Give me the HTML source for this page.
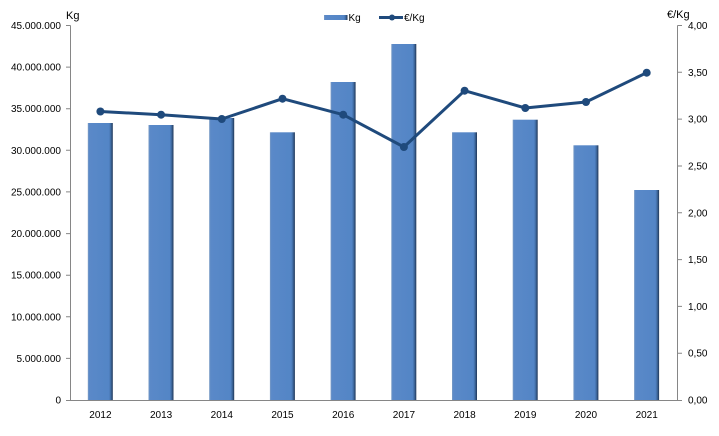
<!DOCTYPE html>
<html><head><meta charset="utf-8"><style>
html,body{margin:0;padding:0;background:#fff;}
svg{display:block;}
text{font-family:"Liberation Sans",sans-serif;font-size:10px;fill:#000;}
</style></head><body>
<svg width="719" height="436" viewBox="0 0 719 436" xmlns="http://www.w3.org/2000/svg">
<defs>
<linearGradient id="bg" x1="0" x2="1" y1="0" y2="0">
<stop offset="0" stop-color="#7c9cc4"/>
<stop offset="0.06" stop-color="#5a89c8"/>
<stop offset="0.85" stop-color="#5385c6"/>
<stop offset="0.92" stop-color="#3f6aa0"/>
<stop offset="1" stop-color="#1f3555"/>
</linearGradient>
</defs>
<rect width="719" height="436" fill="#fff"/>
<!-- bars -->
<g fill="url(#bg)">
<rect x="87.8" y="123" width="25" height="277"/>
<rect x="148.5" y="125" width="25" height="275"/>
<rect x="209.2" y="118" width="25" height="282"/>
<rect x="269.9" y="132.3" width="25" height="267.7"/>
<rect x="330.6" y="82" width="25" height="318"/>
<rect x="391.3" y="44" width="25" height="356"/>
<rect x="452" y="132.3" width="25" height="267.7"/>
<rect x="512.7" y="119.7" width="25" height="280.3"/>
<rect x="573.4" y="145.3" width="25" height="254.7"/>
<rect x="634.1" y="190" width="25" height="210"/>
</g>
<!-- axes -->
<g stroke="#868686" stroke-width="1" fill="none">
<line x1="70.5" y1="25.5" x2="70.5" y2="400.5"/>
<line x1="677.5" y1="25.5" x2="677.5" y2="400.5"/>
<line x1="70" y1="400.5" x2="678" y2="400.5"/>
<path d="M66 25.5H70.5M66 67.1H70.5M66 108.7H70.5M66 150.3H70.5M66 191.9H70.5M66 233.6H70.5M66 275.2H70.5M66 316.8H70.5M66 358.4H70.5M66 400.5H70.5"/>
<path d="M677.5 25.5H682M677.5 72.3H682M677.5 119.1H682M677.5 166H682M677.5 212.8H682M677.5 259.6H682M677.5 306.4H682M677.5 353.2H682M677.5 400.5H682"/>
</g>
<!-- left labels -->
<g text-anchor="end">
<text x="61" y="29">45.000.000</text>
<text x="61" y="70.6">40.000.000</text>
<text x="61" y="112.2">35.000.000</text>
<text x="61" y="153.8">30.000.000</text>
<text x="61" y="195.4">25.000.000</text>
<text x="61" y="237.1">20.000.000</text>
<text x="61" y="278.7">15.000.000</text>
<text x="61" y="320.3">10.000.000</text>
<text x="61" y="361.9">5.000.000</text>
<text x="61" y="403.5">0</text>
</g>
<!-- right labels -->
<g>
<text x="688" y="29">4,00</text>
<text x="688" y="75.8">3,50</text>
<text x="688" y="122.6">3,00</text>
<text x="688" y="169.5">2,50</text>
<text x="688" y="216.3">2,00</text>
<text x="688" y="263.1">1,50</text>
<text x="688" y="309.9">1,00</text>
<text x="688" y="356.7">0,50</text>
<text x="688" y="403.5">0,00</text>
</g>
<!-- x labels -->
<g text-anchor="middle">
<text x="100.4" y="418">2012</text>
<text x="161.1" y="418">2013</text>
<text x="221.8" y="418">2014</text>
<text x="282.5" y="418">2015</text>
<text x="343.2" y="418">2016</text>
<text x="403.9" y="418">2017</text>
<text x="464.6" y="418">2018</text>
<text x="525.3" y="418">2019</text>
<text x="586" y="418">2020</text>
<text x="646.7" y="418">2021</text>
</g>
<!-- axis titles -->
<text x="66" y="19" style="font-size:11px">Kg</text>
<text x="667" y="18" style="font-size:11px">€/Kg</text>
<!-- line -->
<polyline fill="none" stroke="#1f4a7c" stroke-width="3" stroke-linejoin="round" points="100.4,111.5 161.1,114.7 221.8,119 282.5,98.7 343.2,114.7 403.9,147 464.6,90.7 525.3,108 586,102 646.7,72.7"/>
<g fill="#1f4a7c">
<circle cx="100.4" cy="111.5" r="4"/>
<circle cx="161.1" cy="114.7" r="4"/>
<circle cx="221.8" cy="119" r="4"/>
<circle cx="282.5" cy="98.7" r="4"/>
<circle cx="343.2" cy="114.7" r="4"/>
<circle cx="403.9" cy="147" r="4"/>
<circle cx="464.6" cy="90.7" r="4"/>
<circle cx="525.3" cy="108" r="4"/>
<circle cx="586" cy="102" r="4"/>
<circle cx="646.7" cy="72.7" r="4"/>
</g>
<!-- legend -->
<rect x="324" y="15" width="23.5" height="5" fill="url(#bg)"/>
<text x="348.5" y="21" style="font-size:10px">Kg</text>
<line x1="379" y1="17.5" x2="403" y2="17.5" stroke="#1f4a7c" stroke-width="3"/>
<circle cx="392" cy="17.5" r="3" fill="#1f4a7c"/>
<text x="404" y="21" style="font-size:10px">€/Kg</text>
</svg>
</body></html>
